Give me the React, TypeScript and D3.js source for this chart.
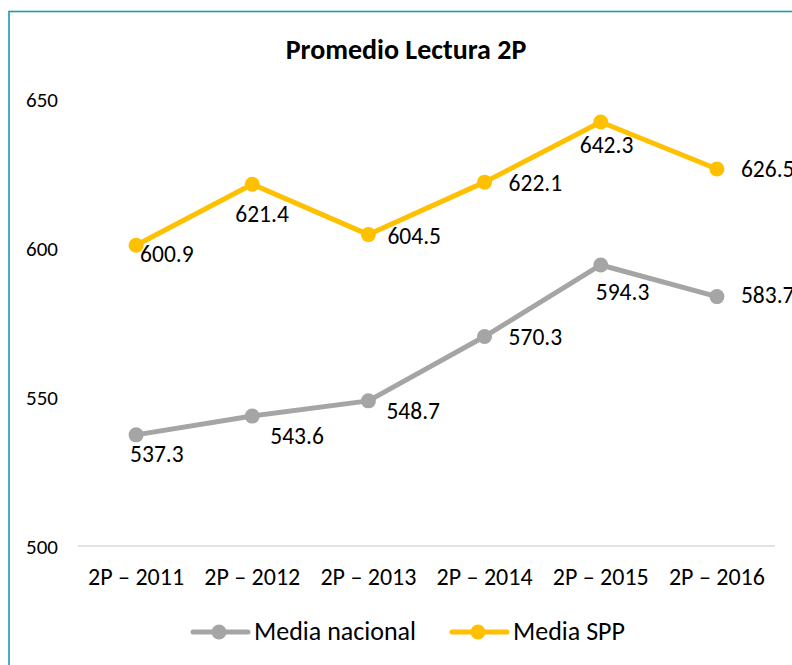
import React, { useEffect, useRef } from "react";
import * as d3 from "d3";

const categories = ["2P – 2011", "2P – 2012", "2P – 2013", "2P – 2014", "2P – 2015", "2P – 2016"];
const mediaNacional = [537.3, 543.6, 548.7, 570.3, 594.3, 583.7];
const mediaSPP = [600.9, 621.4, 604.5, 622.1, 642.3, 626.5];
const yTicks = [500, 550, 600, 650];
const seriesNames = ["Media nacional", "Media SPP"];

// data label nudges (dx to text start, dy to baseline), placed as in the original
const nacionalLabelOffset = [[-6, 27], [18, 28], [18, 18], [24, 8], [-5, 35], [24, 6]];
const sppLabelOffset = [[4, 17], [-17, 38], [19, 9], [24, 9], [-21, 31], [24, 8]];

const App = () => {
  const ref = useRef<SVGGElement>(null);

  const width = 792;
  const height = 665;
  const margin = { top: 99, right: 17, bottom: 119, left: 78 };
  const font = "Calibri, Carlito, Lato, sans-serif";

  useEffect(() => {
    if (!ref.current) return;
    ref.current.innerHTML = "";
    const g = d3.select(ref.current);

    const x = d3.scaleBand()
      .domain(categories)
      .range([margin.left, width - margin.right]);

    const y = d3.scaleLinear()
      .domain([500, 650])
      .range([height - margin.bottom, margin.top]);

    const cx = (i: number) => x(categories[i])! + x.bandwidth() / 2;

    // outer border
    g.append("rect")
      .attr("x", 9)
      .attr("y", 11.5)
      .attr("width", 900)
      .attr("height", 800)
      .attr("fill", "white")
      .attr("stroke", "#1a9bb3")
      .attr("stroke-width", 1.6);

    g.append("text")
      .attr("x", 406)
      .attr("y", 59)
      .attr("text-anchor", "middle")
      .attr("font-family", font)
      .attr("font-weight", "bold")
      .attr("font-size", 28)
      .text("Promedio Lectura 2P");

    // baseline
    g.append("line")
      .attr("x1", margin.left)
      .attr("x2", width - margin.right)
      .attr("y1", y(500))
      .attr("y2", y(500))
      .attr("stroke", "#d9d9d9")
      .attr("stroke-width", 1.5);

    g.selectAll(".ytick")
      .data(yTicks)
      .enter().append("text")
      .attr("class", "ytick")
      .attr("x", 26)
      .attr("y", d => y(d) + 8)
      .attr("font-family", font)
      .attr("font-size", 21)
      .text(d => d);

    g.selectAll(".xtick")
      .data(categories)
      .enter().append("text")
      .attr("class", "xtick")
      .attr("x", d => x(d)! + x.bandwidth() / 2)
      .attr("y", 585)
      .attr("text-anchor", "middle")
      .attr("font-family", font)
      .attr("font-size", 24)
      .text(d => d);

    const series = [
      { name: seriesNames[0], values: mediaNacional, off: nacionalLabelOffset, color: "#a5a5a5" },
      { name: seriesNames[1], values: mediaSPP, off: sppLabelOffset, color: "#ffc000" },
    ];

    const line = d3.line<number>()
      .x((d, i) => cx(i))
      .y(d => y(d));

    series.forEach(s => {
      g.append("path")
        .datum(s.values)
        .attr("d", line)
        .attr("fill", "none")
        .attr("stroke", s.color)
        .attr("stroke-width", 5)
        .attr("stroke-linejoin", "round");

      g.selectAll(null)
        .data(s.values)
        .enter().append("circle")
        .attr("cx", (d, i) => cx(i))
        .attr("cy", d => y(d))
        .attr("r", 7.5)
        .attr("fill", s.color);

      g.selectAll(null)
        .data(s.values)
        .enter().append("text")
        .attr("x", (d, i) => cx(i) + s.off[i][0])
        .attr("y", (d, i) => y(d) + s.off[i][1])
        .attr("font-family", font)
        .attr("font-size", 23.5)
        .text(d => d.toFixed(1));
    });

    // legend
    const legendX = [193, 452];
    series.forEach((s, i) => {
      const lx = legendX[i];
      g.append("line")
        .attr("x1", lx)
        .attr("x2", lx + 55)
        .attr("y1", 632)
        .attr("y2", 632)
        .attr("stroke", s.color)
        .attr("stroke-width", 5)
        .attr("stroke-linecap", "round");
      g.append("circle")
        .attr("cx", lx + 26)
        .attr("cy", 632)
        .attr("r", 7.5)
        .attr("fill", s.color);
      g.append("text")
        .attr("x", lx + 61)
        .attr("y", 640)
        .attr("font-family", font)
        .attr("font-size", 26)
        .text(s.name);
    });
  }, []);

  return (
    <svg width={width} height={height} style={{ position: "absolute", left: 0, top: 0 }}>
      <g ref={ref} />
    </svg>
  );
};

export default App;
